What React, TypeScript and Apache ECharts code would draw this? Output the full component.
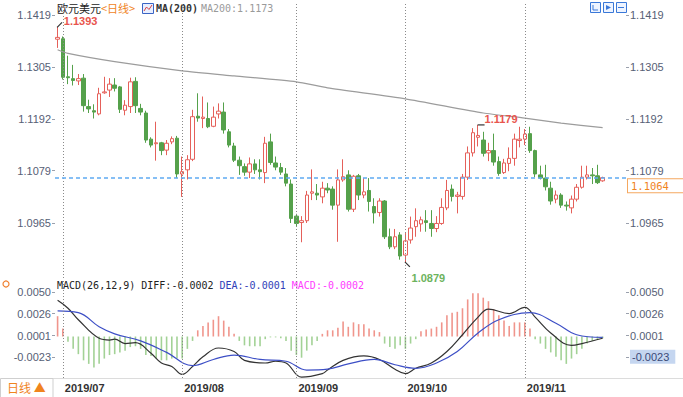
import React, { useEffect, useRef } from "react";
import * as echarts from "echarts";

// ---------- data ----------
const DATES: string[] = [
  "2019/06/28",
  "2019/07/01", "2019/07/02", "2019/07/03", "2019/07/04", "2019/07/05",
  "2019/07/08", "2019/07/09", "2019/07/10", "2019/07/11", "2019/07/12",
  "2019/07/15", "2019/07/16", "2019/07/17", "2019/07/18", "2019/07/19",
  "2019/07/22", "2019/07/23", "2019/07/24", "2019/07/25", "2019/07/26",
  "2019/07/29", "2019/07/30", "2019/07/31",
  "2019/08/01", "2019/08/02",
  "2019/08/05", "2019/08/06", "2019/08/07", "2019/08/08", "2019/08/09",
  "2019/08/12", "2019/08/13", "2019/08/14", "2019/08/15", "2019/08/16",
  "2019/08/19", "2019/08/20", "2019/08/21", "2019/08/22", "2019/08/23",
  "2019/08/26", "2019/08/27", "2019/08/28", "2019/08/29", "2019/08/30",
  "2019/09/02", "2019/09/03", "2019/09/04", "2019/09/05", "2019/09/06",
  "2019/09/09", "2019/09/10", "2019/09/11", "2019/09/12", "2019/09/13",
  "2019/09/16", "2019/09/17", "2019/09/18", "2019/09/19", "2019/09/20",
  "2019/09/23", "2019/09/24", "2019/09/25", "2019/09/26", "2019/09/27",
  "2019/09/30",
  "2019/10/01", "2019/10/02", "2019/10/03", "2019/10/04",
  "2019/10/07", "2019/10/08", "2019/10/09", "2019/10/10", "2019/10/11",
  "2019/10/14", "2019/10/15", "2019/10/16", "2019/10/17", "2019/10/18",
  "2019/10/21", "2019/10/22", "2019/10/23", "2019/10/24", "2019/10/25",
  "2019/10/28", "2019/10/29", "2019/10/30", "2019/10/31",
  "2019/11/01",
  "2019/11/04", "2019/11/05", "2019/11/06", "2019/11/07", "2019/11/08",
  "2019/11/11", "2019/11/12", "2019/11/13", "2019/11/14", "2019/11/15",
  "2019/11/18", "2019/11/19", "2019/11/20", "2019/11/21", "2019/11/22",
];

// empty slots kept at the right end of the time axis
const PAD_SLOTS = 4;

// [open, close, low, high]
const CANDLES: number[][] = [
  [1.1366, 1.137, 1.1347, 1.1393],
  [1.1367, 1.1283, 1.1278, 1.1372],
  [1.1284, 1.1282, 1.1268, 1.133],
  [1.128, 1.1276, 1.1265, 1.131],
  [1.1275, 1.128, 1.1266, 1.129],
  [1.1281, 1.1221, 1.1208, 1.129],
  [1.1219, 1.1214, 1.1205, 1.1234],
  [1.121, 1.1207, 1.1193, 1.1224],
  [1.1203, 1.1247, 1.12, 1.126],
  [1.1249, 1.1251, 1.1247, 1.1284],
  [1.1255, 1.1268, 1.124, 1.1281],
  [1.1266, 1.1259, 1.1252, 1.1281],
  [1.1262, 1.1213, 1.1205, 1.1264],
  [1.1211, 1.1222, 1.12, 1.1233],
  [1.1219, 1.1273, 1.1205, 1.1282],
  [1.1274, 1.1221, 1.1205, 1.1283],
  [1.1215, 1.1207, 1.12, 1.1225],
  [1.1205, 1.1146, 1.114, 1.121],
  [1.1148, 1.1135, 1.113, 1.1152],
  [1.1138, 1.114, 1.1101, 1.1186],
  [1.114, 1.1123, 1.1113, 1.1142],
  [1.1124, 1.1139, 1.1113, 1.1146],
  [1.1142, 1.1149, 1.1137, 1.1154],
  [1.115, 1.1072, 1.1063, 1.1155],
  [1.1072, 1.1077, 1.1022, 1.111],
  [1.1081, 1.1103, 1.106, 1.1113],
  [1.1104, 1.1197, 1.11, 1.1212],
  [1.1198, 1.1194, 1.1186, 1.1248],
  [1.1193, 1.1196, 1.1172, 1.1241],
  [1.1193, 1.1175, 1.1172, 1.1228],
  [1.1176, 1.1196, 1.1174, 1.1219],
  [1.1203, 1.1209, 1.1193, 1.1226],
  [1.1207, 1.1168, 1.116, 1.1228],
  [1.1164, 1.1135, 1.113, 1.117],
  [1.1133, 1.1102, 1.1098, 1.114],
  [1.1102, 1.109, 1.107, 1.111],
  [1.1088, 1.1076, 1.1068, 1.1095],
  [1.1076, 1.1094, 1.1063, 1.1108],
  [1.1094, 1.1081, 1.1072, 1.1104],
  [1.1081, 1.1077, 1.106, 1.1104],
  [1.1075, 1.1139, 1.1052, 1.1153],
  [1.1142, 1.1097, 1.1092, 1.116],
  [1.1096, 1.1087, 1.108, 1.111],
  [1.1086, 1.1076, 1.107, 1.1096],
  [1.1072, 1.1052, 1.1045, 1.1085],
  [1.105, 1.0975, 1.0965, 1.106],
  [1.098, 1.0964, 1.0958, 1.0985],
  [1.0966, 1.097, 1.0923, 1.098],
  [1.097, 1.1026, 1.0965, 1.1035],
  [1.103, 1.1033, 1.1015, 1.1082],
  [1.103, 1.1026, 1.1015, 1.105],
  [1.1022, 1.1041, 1.1008, 1.1055],
  [1.1041, 1.1037, 1.103, 1.1052],
  [1.1039, 1.1004, 1.0994, 1.1045],
  [1.1004, 1.1059, 1.0924, 1.1082],
  [1.1059, 1.1066, 1.1055, 1.1104],
  [1.107, 1.0995, 1.099, 1.108],
  [1.0995, 1.1067, 1.0989, 1.107],
  [1.1068, 1.1026, 1.1015, 1.1072],
  [1.1026, 1.1033, 1.1019, 1.1063],
  [1.1036, 1.1012, 1.099, 1.1063],
  [1.1001, 1.0987, 1.0964, 1.1019],
  [1.0988, 1.1013, 1.0979, 1.1019],
  [1.1013, 1.0935, 1.093, 1.1015],
  [1.0935, 1.0913, 1.0908, 1.0953],
  [1.0913, 1.0935, 1.0908, 1.0952],
  [1.0939, 1.0893, 1.0885, 1.0945],
  [1.0895, 1.0926, 1.0879, 1.0943],
  [1.0928, 1.0954, 1.092, 1.0979],
  [1.0957, 1.097, 1.0935, 1.0997],
  [1.0963, 1.0972, 1.0946, 1.0979],
  [1.097, 1.0966, 1.0946, 1.0993],
  [1.0964, 1.0953, 1.0935, 1.0993],
  [1.0953, 1.0964, 1.0945, 1.098],
  [1.0964, 1.0999, 1.0961, 1.1019],
  [1.0998, 1.1036, 1.0993, 1.1059],
  [1.1039, 1.1023, 1.1012, 1.1049],
  [1.1023, 1.1026, 1.0986, 1.1033],
  [1.1023, 1.1065, 1.1016, 1.1072],
  [1.1065, 1.1118, 1.1059, 1.1132],
  [1.1118, 1.1162, 1.111, 1.1172],
  [1.1152, 1.1156, 1.1132, 1.1179],
  [1.1146, 1.1117, 1.111, 1.1164],
  [1.1118, 1.1123, 1.11, 1.114],
  [1.1123, 1.1098, 1.109, 1.116],
  [1.1099, 1.1073, 1.1068, 1.111],
  [1.1075, 1.1096, 1.1072, 1.1105],
  [1.1095, 1.1106, 1.1078, 1.113],
  [1.1106, 1.1148, 1.109, 1.116],
  [1.1145, 1.1148, 1.113, 1.1175],
  [1.1148, 1.1159, 1.1135, 1.117],
  [1.116, 1.1123, 1.1118, 1.1175],
  [1.1123, 1.1072, 1.1065, 1.1125],
  [1.107, 1.1063, 1.106, 1.109],
  [1.1063, 1.1044, 1.1036, 1.1092],
  [1.1041, 1.1013, 1.1005, 1.1055],
  [1.1017, 1.1026, 1.1008, 1.1036],
  [1.1026, 1.1004, 1.0998, 1.103],
  [1.1004, 1.1002, 1.0992, 1.1012],
  [1.0998, 1.1017, 1.0986, 1.1025],
  [1.1017, 1.1043, 1.1012, 1.105],
  [1.1043, 1.1065, 1.104, 1.109],
  [1.1065, 1.107, 1.106, 1.109],
  [1.107, 1.1068, 1.105, 1.1085],
  [1.1068, 1.1053, 1.105, 1.1092],
  [1.1057, 1.1064, 1.1055, 1.1066],
];

const MA200_POINTS: [string, number][] = [
  ["2019/06/28", 1.1343],
  ["2019/07/02", 1.1335],
  ["2019/07/15", 1.1317],
  ["2019/08/01", 1.1297],
  ["2019/08/15", 1.1286],
  ["2019/09/02", 1.1273],
  ["2019/09/10", 1.126],
  ["2019/10/01", 1.1236],
  ["2019/10/22", 1.1205],
  ["2019/11/01", 1.1194],
  ["2019/11/12", 1.1183],
  ["2019/11/22", 1.1173],
];

const DIFF_POINTS: [string, number][] = [
  ["2019/06/28", 0.0041], ["2019/07/02", 0.0032], ["2019/07/04", 0.0019],
  ["2019/07/10", -0.0002], ["2019/07/12", -0.0004], ["2019/07/15", -0.0003],
  ["2019/07/17", -0.0008], ["2019/07/19", -0.0007], ["2019/07/24", -0.0019],
  ["2019/07/26", -0.003], ["2019/07/30", -0.0034], ["2019/08/01", -0.0043],
  ["2019/08/05", -0.0034], ["2019/08/07", -0.0023], ["2019/08/12", -0.0013],
  ["2019/08/15", -0.0017], ["2019/08/19", -0.0027], ["2019/08/23", -0.003],
  ["2019/08/27", -0.0028], ["2019/08/29", -0.003], ["2019/09/03", -0.0046],
  ["2019/09/09", -0.0042], ["2019/09/10", -0.0038], ["2019/09/13", -0.0027],
  ["2019/09/19", -0.0022], ["2019/09/24", -0.0026], ["2019/09/27", -0.0037],
  ["2019/10/01", -0.0042], ["2019/10/03", -0.0036], ["2019/10/08", -0.003],
  ["2019/10/11", -0.0017], ["2019/10/16", 0.0002], ["2019/10/21", 0.0022],
  ["2019/10/23", 0.0031], ["2019/10/29", 0.0026], ["2019/11/01", 0.0033],
  ["2019/11/05", 0.0022], ["2019/11/08", 0.0004], ["2019/11/14", -0.001],
  ["2019/11/18", -0.0008], ["2019/11/22", -0.0002],
];

const DEA_POINTS: [string, number][] = [
  ["2019/06/28", 0.0029], ["2019/07/04", 0.0027], ["2019/07/10", 0.0011],
  ["2019/07/15", 0.0003], ["2019/07/22", -0.0005], ["2019/07/29", -0.0018],
  ["2019/08/05", -0.0033], ["2019/08/09", -0.0026], ["2019/08/15", -0.0021],
  ["2019/08/22", -0.0026], ["2019/08/29", -0.0028], ["2019/09/04", -0.0038],
  ["2019/09/10", -0.0037], ["2019/09/16", -0.0031], ["2019/09/23", -0.0026],
  ["2019/09/27", -0.0032], ["2019/10/03", -0.0036], ["2019/10/09", -0.003],
  ["2019/10/15", -0.0017], ["2019/10/21", 0.0004], ["2019/10/25", 0.0019],
  ["2019/11/04", 0.0027], ["2019/11/11", 0.0015], ["2019/11/15", 0.0002],
  ["2019/11/22", -0.0001],
];

const MACD_HIST: number[] = [
  0.0023, 0.0009, -0.0006, -0.0014, -0.002, -0.0027, -0.0031, -0.0035, -0.0031, -0.0025,
  -0.0021, -0.002, -0.0018, -0.0016, -0.0012, -0.0011, -0.0014, -0.0021, -0.0022, -0.0025,
  -0.0027, -0.0027, -0.0025, -0.0025, -0.0025, -0.0014, -0.0005, 0.0007, 0.0012, 0.0016,
  0.0019, 0.0023, 0.0018, 0.0011, 0.0003, -0.0005, -0.001, -0.0011, -0.0011, -0.0011,
  -0.0003, -0.0001, -0.0001, -0.0002, -0.0005, -0.0016, -0.0021, -0.0024, -0.0016, -0.001,
  -0.0005, 0.0003, 0.0007, 0.0007, 0.001, 0.0017, 0.0011, 0.0016, 0.0014, 0.0014,
  0.0009, 0.0007, 0.0005, -0.0008, -0.0012, -0.0014, -0.001, -0.0014, -0.0008, -0.0003,
  0.0006, 0.0008, 0.0009, 0.0011, 0.0016, 0.0024, 0.0027, 0.0028, 0.0032, 0.0042,
  0.0049, 0.0049, 0.0044, 0.004, 0.0031, 0.0024, 0.0018, 0.0012, 0.0016, 0.0016,
  0.0016, 0.0009, -0.0003, -0.0008, -0.0014, -0.0018, -0.0023, -0.0027, -0.0031, -0.0025,
  -0.002, -0.0014, -0.0008, -0.0005, -0.0003, -0.0002,
];

const PRICE_TICKS = [1.0965, 1.1079, 1.1192, 1.1305, 1.1419];
const MACD_TICKS = [-0.0023, 0.0001, 0.0026, 0.005];
const LAST_PRICE = 1.1064;
const HIGHLIGHT_MACD_TICK = -0.0023;

const PRICE_MARKS: { date: string; value: number; kind: "high" | "low" }[] = [
  { date: "2019/06/28", value: 1.1393, kind: "high" },
  { date: "2019/10/21", value: 1.1179, kind: "high" },
  { date: "2019/10/01", value: 1.0879, kind: "low" },
];

// ---------- styling ----------
const RED = "#e5605a";
const GREEN = "#55a14b";
const HIST_RED = "#f0958c";
const HIST_GREEN = "#a3d296";
const AXIS_TXT = "#566075";
const MONO = "'DejaVu Sans Mono', 'Liberation Mono', monospace";
const SANS = "'Liberation Sans', Arial, sans-serif";
const CJK = "'Noto Sans CJK SC', sans-serif";

const MARK_STYLE = [
  { offset: [21, -4], rotate: 45, symOffset: [2, -2] },
  { offset: [20, -6], rotate: 0, symOffset: [3, 0] },
  { offset: [21, 14], rotate: -45, symOffset: [2, 2] },
];

export default function App() {
  const ref = useRef<HTMLDivElement>(null);

  useEffect(() => {
    if (!ref.current) return;
    const chart = echarts.init(ref.current, undefined, { renderer: "svg" });

    const cats = [...DATES, ...Array.from({ length: PAD_SLOTS }, (_, i) => " ".repeat(i + 1))];
    const monthStarts = DATES.filter(
      (d, i) => i > 0 && d.slice(0, 7) !== DATES[i - 1].slice(0, 7)
    );
    const monthLines = monthStarts.map((d) => ({
      xAxis: d,
      lineStyle: { color: "#8a8a8a", type: [1, 2], width: 1 },
      label: { show: false },
    }));

    const lastDiff = DIFF_POINTS[DIFF_POINTS.length - 1][1];
    const lastDea = DEA_POINTS[DEA_POINTS.length - 1][1];
    const lastHist = MACD_HIST[MACD_HIST.length - 1];
    const lastMa = MA200_POINTS[MA200_POINTS.length - 1][1];
    const f4 = (v: number) => v.toFixed(4);

    const gridLeft = 55;
    const gridWidth = 571;

    const yCommon = (min: number, max: number, ticks: number[], gridIndex: number, pos: string) => ({
      type: "value",
      gridIndex,
      position: pos,
      min,
      max,
      splitLine: { show: false },
      axisLine: { show: false },
      axisTick: {
        show: true,
        length: 3,
        customValues: ticks,
        lineStyle: { color: "#9aa0ad" },
      },
      axisLabel: {
        customValues: ticks,
        color: AXIS_TXT,
        fontSize: 11,
        fontFamily: SANS,
        margin: 4,
        formatter: (v: number) =>
          gridIndex === 1 && pos === "right" && Math.abs(v - HIGHLIGHT_MACD_TICK) < 1e-9
            ? "{hl|" + f4(v) + "}"
            : f4(v),
        rich: {
          hl: {
            backgroundColor: "#c5d6f0",
            color: "#3b4a78",
            fontSize: 11,
            fontFamily: SANS,
            padding: [2, 6, 1, 2],
          },
        },
      },
    });

    const option: any = {
      animation: false,
      backgroundColor: "#ffffff",
      grid: [
        { left: gridLeft, width: gridWidth, top: 3, height: 275 },
        { left: gridLeft, width: gridWidth, top: 280, height: 98 },
      ],
      xAxis: [
        {
          type: "category",
          gridIndex: 0,
          data: cats,
          axisLine: { show: false },
          axisTick: { show: false },
          axisLabel: { show: false },
          splitLine: { show: false },
        },
        {
          type: "category",
          gridIndex: 1,
          data: cats,
          axisLine: { show: false },
          axisTick: { show: false },
          splitLine: { show: false },
          axisLabel: {
            interval: (_i: number, v: string) => monthStarts.includes(v),
            formatter: (v: string) => v.slice(0, 7),
            align: "left",
            padding: [0, 0, 0, 2],
            margin: 4,
            fontSize: 11,
            fontWeight: "bold",
            color: "#333",
            fontFamily: SANS,
          },
        },
      ],
      yAxis: [
        yCommon(1.0845, 1.1445, PRICE_TICKS, 0, "left"),
        yCommon(1.0845, 1.1445, PRICE_TICKS, 0, "right"),
        yCommon(-0.0047, 0.0064, MACD_TICKS, 1, "left"),
        yCommon(-0.0047, 0.0064, MACD_TICKS, 1, "right"),
      ],
      series: [
        {
          name: "K",
          type: "candlestick",
          xAxisIndex: 0,
          yAxisIndex: 0,
          data: CANDLES,
          barWidth: 4,
          itemStyle: {
            color: "#ffffff",
            color0: GREEN,
            borderColor: RED,
            borderColor0: GREEN,
            borderWidth: 1,
          },
          markLine: {
            silent: true,
            symbol: ["none", "none"],
            precision: 4,
            data: [
              ...monthLines,
              {
                yAxis: LAST_PRICE,
                lineStyle: { color: "#5fabf2", type: [4, 3], width: 1.5 },
                label: {
                  show: true,
                  position: "end",
                  distance: 2,
                  offset: [0, 8],
                  formatter: () => f4(LAST_PRICE),
                  color: "#f0841e",
                  fontFamily: MONO,
                  fontSize: 10.5,
                  lineHeight: 12,
                  backgroundColor: "#ffffff",
                  borderColor: "#f5a860",
                  borderWidth: 1,
                  padding: [1, 20, 0, 3],
                },
              },
            ],
          },
          markPoint: {
            silent: true,
            symbol: "rect",
            symbolSize: [7, 1.2],
            itemStyle: { color: "#333" },
            data: PRICE_MARKS.map((m, i) => ({
              coord: [m.date, m.value],
              value: m.value,
              symbolRotate: MARK_STYLE[i].rotate,
              symbolOffset: MARK_STYLE[i].symOffset,
              label: {
                show: true,
                position: "inside",
                offset: MARK_STYLE[i].offset,
                formatter: () => f4(m.value),
                color: m.kind === "high" ? "#e8554d" : "#6db35d",
                fontWeight: "bold",
                fontSize: 11,
                lineHeight: 12,
                fontFamily: SANS,
              },
            })),
          },
        },
        {
          name: "MA200",
          type: "line",
          xAxisIndex: 0,
          yAxisIndex: 0,
          data: MA200_POINTS,
          showSymbol: false,
          smooth: 0.2,
          lineStyle: { color: "#9c9c9c", width: 1.2 },
          silent: true,
        },
        {
          name: "MACD",
          type: "bar",
          xAxisIndex: 1,
          yAxisIndex: 2,
          data: MACD_HIST,
          barWidth: 1.6,
          itemStyle: {
            color: (p: any) => (p.value >= 0 ? HIST_RED : HIST_GREEN),
          },
          markLine: {
            silent: true,
            symbol: ["none", "none"],
            data: monthLines,
          },
        },
        {
          name: "DIFF",
          type: "line",
          xAxisIndex: 1,
          yAxisIndex: 2,
          data: DIFF_POINTS,
          showSymbol: false,
          smooth: 0.4,
          lineStyle: { color: "#333333", width: 1.2 },
          silent: true,
        },
        {
          name: "DEA",
          type: "line",
          xAxisIndex: 1,
          yAxisIndex: 2,
          data: DEA_POINTS,
          showSymbol: false,
          smooth: 0.4,
          lineStyle: { color: "#3d4fc6", width: 1.2 },
          silent: true,
        },
      ],
      graphic: [
        // header
        { type: "text", x: 57, y: 2, style: { text: "欧元美元", font: `11px ${CJK}`, lineHeight: 12, fill: "#222" } },
        { type: "text", x: 101, y: 2, style: { text: "<日线>", font: `11px ${CJK}`, lineHeight: 12, fill: "#f0841e" } },
        { type: "rect", shape: { x: 142.5, y: 3.5, width: 11, height: 10 }, style: { fill: "#e9efff", stroke: "#3a64c4", lineWidth: 1 } },
        { type: "polyline", shape: { points: [[144, 11], [146.5, 7], [149, 9.5], [152, 5]] }, style: { stroke: "#d84040", fill: "none", lineWidth: 1 } },
        { type: "text", x: 156, y: 3, style: { text: "MA(200)", font: `bold 10px ${MONO}`, fill: "#333" } },
        { type: "text", x: 201, y: 3, style: { text: "MA200:" + f4(lastMa), font: `10px ${MONO}`, fill: "#9a9a9a" } },
        // toolbar icons
        { type: "rect", shape: { x: 590.5, y: 2.5, width: 10, height: 10 }, style: { fill: "#eef4ff", stroke: "#3a78d8" } },
        { type: "polyline", shape: { points: [[593, 5], [593, 10], [598, 10]] }, style: { stroke: "#3a78d8", fill: "none" } },
        { type: "rect", shape: { x: 603.5, y: 2.5, width: 10, height: 10 }, style: { fill: "#eef4ff", stroke: "#3a78d8" } },
        { type: "polygon", shape: { points: [[606, 5], [611, 7.5], [606, 10]] }, style: { fill: "#3a78d8" } },
        { type: "rect", shape: { x: 616.5, y: 2.5, width: 10, height: 10 }, style: { fill: "#eef4ff", stroke: "#3a78d8" } },
        { type: "polyline", shape: { points: [[618, 7.5], [624, 7.5]] }, style: { stroke: "#3a78d8", fill: "none" } },
        // MACD header
        { type: "circle", shape: { cx: 6, cy: 284, r: 3 }, style: { fill: "#fff", stroke: "#f08030", lineWidth: 1.2 } },
        { type: "text", x: 57, y: 280, style: { text: `MACD(26,12,9) DIFF:${f4(lastDiff)}`, font: `10px ${MONO}`, fill: "#222" } },
        { type: "text", x: 219.5, y: 280, style: { text: `DEA:${f4(lastDea)}`, font: `10px ${MONO}`, fill: "#3040b8" } },
        { type: "text", x: 291.8, y: 280, style: { text: `MACD:${f4(lastHist)}`, font: `10px ${MONO}`, fill: "#ff3cff" } },
        // bottom bar
        { type: "line", shape: { x1: 53, y1: 378.5, x2: 683, y2: 378.5 }, style: { stroke: "#dcdcdc", lineWidth: 1 } },
        { type: "rect", shape: { x: 0.5, y: 378.5, width: 52.5, height: 19 }, style: { fill: "#fff", stroke: "#cfcfcf", lineWidth: 1 } },
        { type: "text", x: 7, y: 381, style: { text: "日线 ▲", font: `12px ${CJK}`, fill: "#f0841e" } },
      ],
    };

    chart.setOption(option);
    return () => chart.dispose();
  }, []);

  return (
    <div
      ref={ref}
      style={{ position: "fixed", left: 0, top: 0, width: 683, height: 397, background: "#fff" }}
    />
  );
}
